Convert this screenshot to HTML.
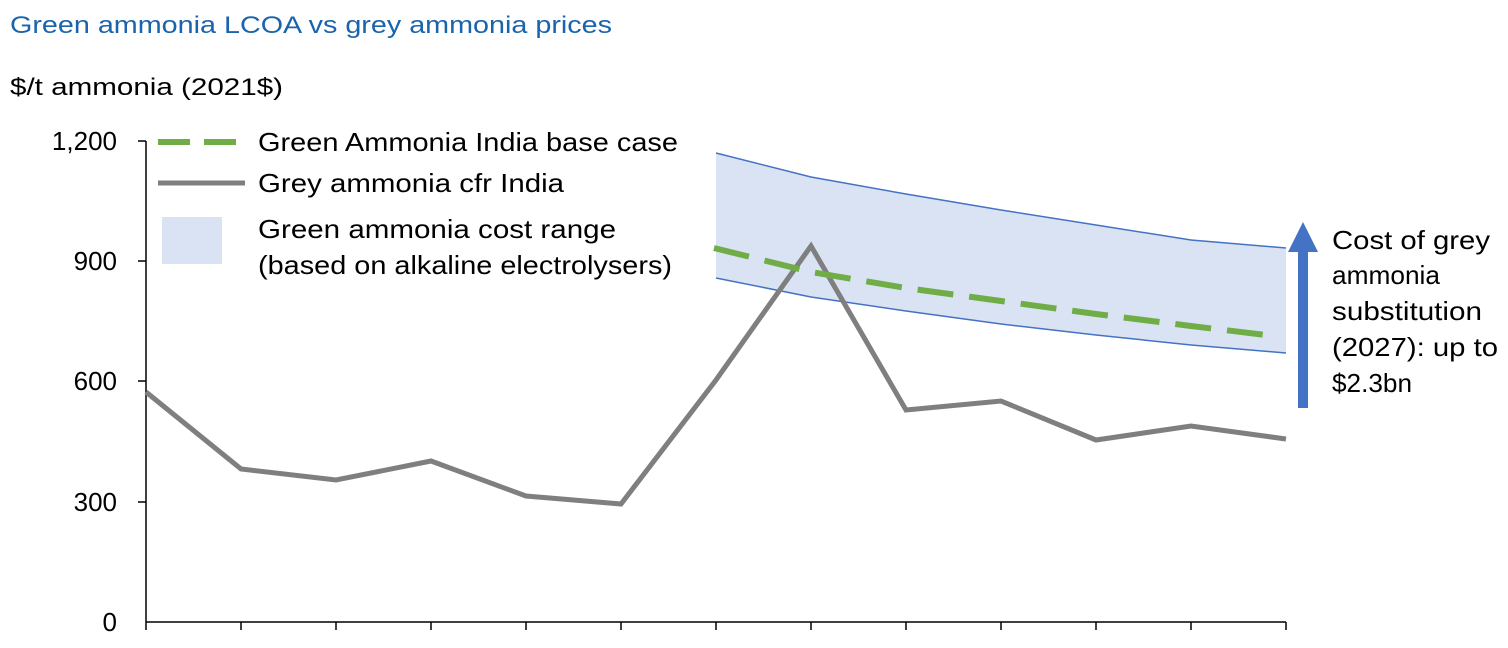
<!DOCTYPE html>
<html><head><meta charset="utf-8"><style>
body{margin:0;background:#fff;}
svg{display:block;font-family:"Liberation Sans",sans-serif;}
</style></head><body>
<svg width="1508" height="648" viewBox="0 0 1508 648">
<text x="10" y="33" font-size="24" fill="#1a64ad" textLength="602" lengthAdjust="spacingAndGlyphs">Green ammonia LCOA vs grey ammonia prices</text>
<text x="10" y="95" font-size="24" fill="#000" textLength="273" lengthAdjust="spacingAndGlyphs">$/t ammonia (2021$)</text>
<g font-size="26" fill="#000" text-anchor="end">
<text x="117" y="150">1,200</text>
<text x="117" y="270">900</text>
<text x="117" y="390">600</text>
<text x="117" y="511">300</text>
<text x="117" y="631">0</text>
</g>
<polygon fill="#dae3f3" points="716,153 811,177 906,194 1001,210 1096,225 1191,240 1286,248 1286,353 1191,345 1096,335 1001,324 906,311 811,297 716,278"/>
<polyline fill="none" stroke="#4472c4" stroke-width="1.5" points="716,153 811,177 906,194 1001,210 1096,225 1191,240 1286,248"/>
<polyline fill="none" stroke="#4472c4" stroke-width="1.5" points="716,278 811,297 906,311 1001,324 1096,335 1191,345 1286,353"/>
<line x1="146" y1="622" x2="1286" y2="622" stroke="#000" stroke-width="1.5"/>
<line x1="146" y1="141" x2="146" y2="622" stroke="#000" stroke-width="1.5"/>
<g stroke="#000" stroke-width="1.5">
<line x1="146" y1="622" x2="146" y2="630"/><line x1="241" y1="622" x2="241" y2="630"/><line x1="336" y1="622" x2="336" y2="630"/><line x1="431" y1="622" x2="431" y2="630"/><line x1="526" y1="622" x2="526" y2="630"/><line x1="621" y1="622" x2="621" y2="630"/><line x1="716" y1="622" x2="716" y2="630"/><line x1="811" y1="622" x2="811" y2="630"/><line x1="906" y1="622" x2="906" y2="630"/><line x1="1001" y1="622" x2="1001" y2="630"/><line x1="1096" y1="622" x2="1096" y2="630"/><line x1="1191" y1="622" x2="1191" y2="630"/><line x1="1286" y1="622" x2="1286" y2="630"/>
<line x1="138" y1="141" x2="146" y2="141"/><line x1="138" y1="261" x2="146" y2="261"/><line x1="138" y1="381" x2="146" y2="381"/><line x1="138" y1="502" x2="146" y2="502"/>
</g>
<polyline fill="none" stroke="#7f7f7f" stroke-width="5" stroke-linejoin="miter" points="146,392 241,469 336,480 431,461 526,496 621,504 716,380 811,246 906,410 1001,401 1096,440 1191,426 1286,439"/>
<polyline fill="none" stroke="#70ad47" stroke-width="6" stroke-dasharray="36,16" points="714,248 811,272 906,288 1001,301 1096,314 1191,326 1274,336"/>
<rect x="1298" y="252" width="10" height="156" fill="#4472c4"/>
<polygon fill="#4472c4" points="1288,252 1303,222 1318,252"/>
<g font-size="26" fill="#000">
<text x="1332" y="249" textLength="158" lengthAdjust="spacingAndGlyphs">Cost of grey</text>
<text x="1332" y="284" textLength="108" lengthAdjust="spacingAndGlyphs">ammonia</text>
<text x="1332" y="320" textLength="150" lengthAdjust="spacingAndGlyphs">substitution</text>
<text x="1332" y="356" textLength="166" lengthAdjust="spacingAndGlyphs">(2027): up to</text>
<text x="1332" y="392" textLength="80" lengthAdjust="spacingAndGlyphs">$2.3bn</text>
</g>
<line x1="158" y1="142" x2="245" y2="142" stroke="#70ad47" stroke-width="6" stroke-dasharray="32,14"/>
<line x1="158" y1="183" x2="245" y2="183" stroke="#7f7f7f" stroke-width="5"/>
<rect x="162" y="217" width="60" height="47" fill="#dae3f3"/>
<g font-size="26" fill="#000">
<text x="258" y="151" textLength="420" lengthAdjust="spacingAndGlyphs">Green Ammonia India base case</text>
<text x="258" y="192" textLength="306" lengthAdjust="spacingAndGlyphs">Grey ammonia cfr India</text>
<text x="258" y="238" textLength="358" lengthAdjust="spacingAndGlyphs">Green ammonia cost range</text>
<text x="258" y="274" textLength="414" lengthAdjust="spacingAndGlyphs">(based on alkaline electrolysers)</text>
</g>
</svg>
</body></html>
